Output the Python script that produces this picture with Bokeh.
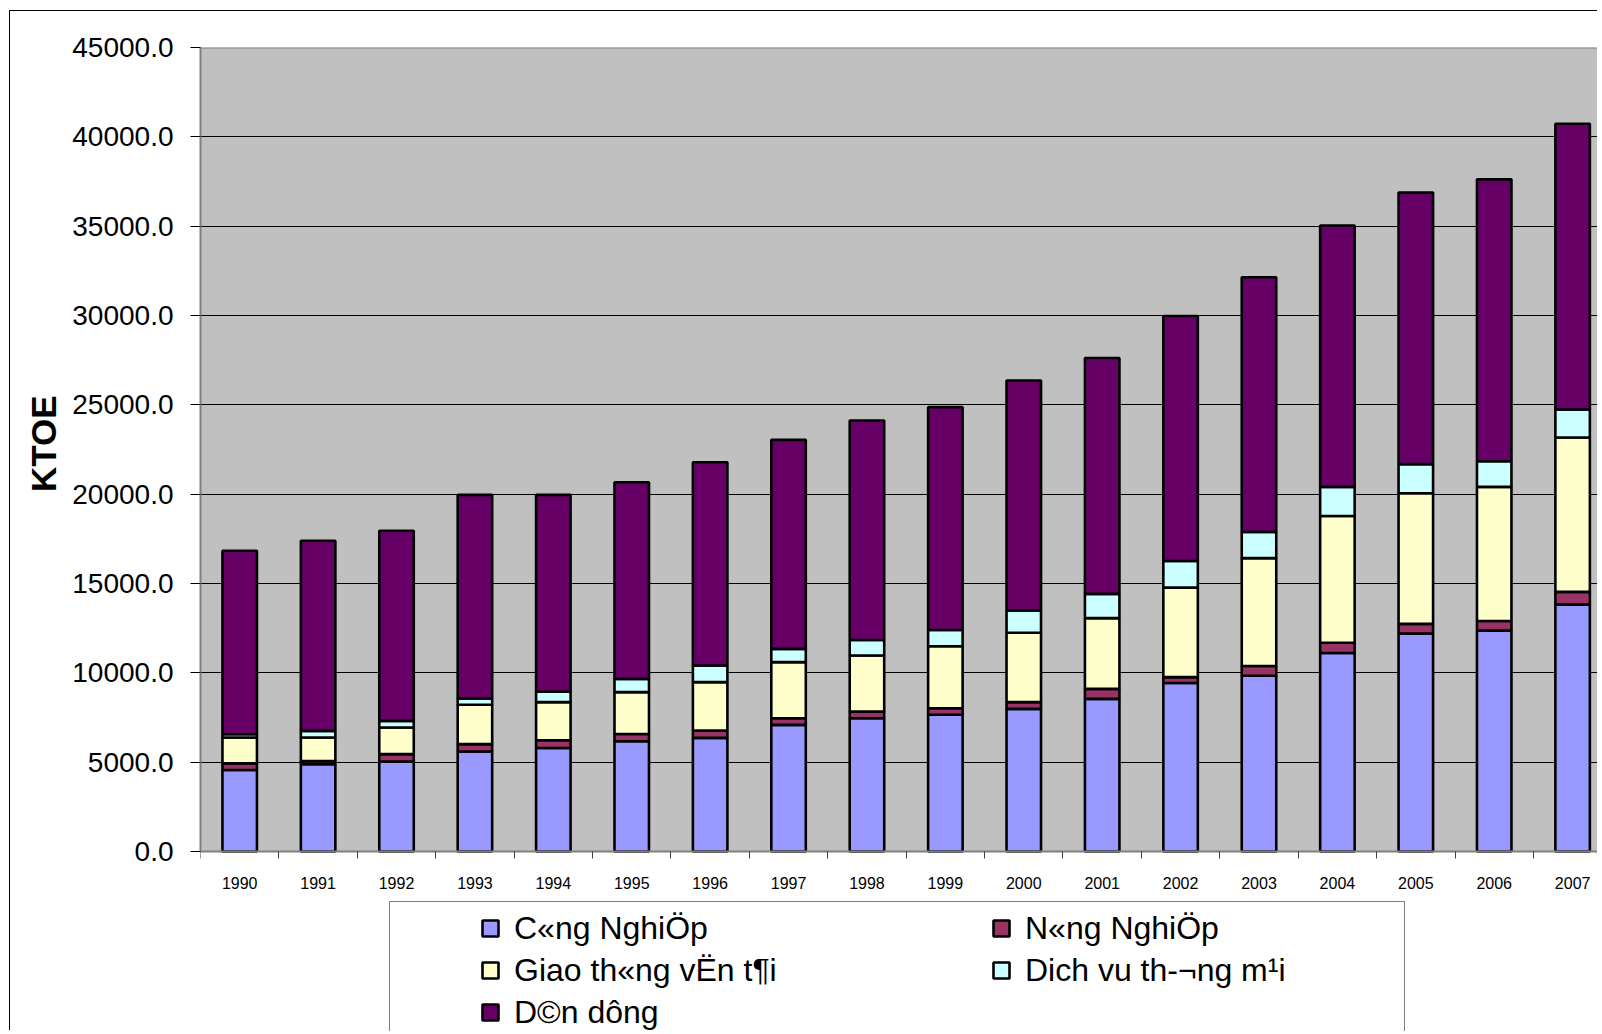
from bokeh.plotting import figure
from bokeh.models import (Range1d, FixedTicker, PrintfTickFormatter, Legend, LegendItem,
                          BoxAnnotation, Span, Title)
from bokeh.embed import file_html
from bokeh.resources import INLINE

years = ["1990", "1991", "1992", "1993", "1994", "1995", "1996", "1997", "1998",
         "1999", "2000", "2001", "2002", "2003", "2004", "2005", "2006", "2007"]
cong_nghiep = [4560, 4890, 5040, 5600, 5790, 6170, 6360, 7090, 7460,
               7650, 7980, 8540, 9430, 9840, 11110, 12200, 12360, 13820]
nong_nghiep = [370, 170, 410, 410, 440, 410, 410, 370, 370,
               370, 380, 560, 330, 540, 570, 540, 540, 710]
giao_thong = [1450, 1320, 1490, 2200, 2130, 2340, 2710, 3140, 3140,
              3470, 3880, 3960, 5010, 6040, 7100, 7310, 7510, 8640]
dich_vu = [180, 370, 370, 350, 590, 740, 930, 740, 870,
           910, 1250, 1360, 1490, 1470, 1630, 1630, 1430, 1570]
dan_dung = [10270, 10640, 10640, 11400, 11010, 11010, 11380, 11700, 12280,
            12470, 12870, 13200, 13710, 14250, 14630, 15200, 15780, 15990]

series_names = ["C«ng NghiÖp", "N«ng NghiÖp", "Giao th«ng vËn t¶i",
                "Dich vu th-¬ng m¹i", "D©n dông"]
series_colors = ["#9999FF", "#993366", "#FFFFCC", "#CCFFFF", "#660066"]
y_ticks = [0, 5000, 10000, 15000, 20000, 25000, 30000, 35000, 40000, 45000]
y_max = 45000
y_title = "KTOE"

FONT = "Liberation Sans"
n = len(years)
xs = [i + 0.5 for i in range(n)]

# geometry (canvas px)
H = 1020
TOP = 36            # frame top
AXIS_Y = 840        # pixel of value 0
px_per_unit = (AXIS_Y - TOP) / y_max
y_start = -(H - AXIS_Y) / px_per_unit

p = figure(width=1588, height=H, output_backend="svg", toolbar_location=None,
           x_range=Range1d(0, 17.83), y_range=Range1d(y_start, y_max),
           min_border_left=190, min_border_top=TOP, min_border_bottom=0,
           min_border_right=0)
p.styles = {"margin-left": "9px", "margin-top": "10px",
            "border-left": "1px solid black", "border-top": "1px solid black"}
p.background_fill_color = "white"
p.border_fill_color = "white"
p.outline_line_color = None

# grey plot area
p.add_layout(BoxAnnotation(bottom=0, top=y_max, fill_color="#C0C0C0", fill_alpha=1.0,
                           line_color=None, level="image"))
p.add_layout(Span(location=y_max, dimension="width", line_color="#808080",
                  line_width=2, level="underlay"))

source = dict(x=xs, cong=cong_nghiep, nong=nong_nghiep, giao=giao_thong,
              dich=dich_vu, dan=dan_dung)
keys = ["cong", "nong", "giao", "dich", "dan"]
rs = p.vbar_stack(keys, x="x", width=0.44, source=source, color=series_colors,
                  line_color="black", line_width=2.6)

# y axis
p.yaxis.ticker = FixedTicker(ticks=y_ticks)
p.yaxis.bounds = (0, y_max)
p.yaxis.formatter = PrintfTickFormatter(format="%.1f")
p.yaxis.major_label_text_font = FONT
p.yaxis.major_label_text_font_size = "28px"
p.yaxis.major_label_text_color = "black"
p.yaxis.major_tick_out = 10
p.yaxis.major_tick_in = 0
p.yaxis.major_tick_line_color = "black"
p.yaxis.minor_tick_line_color = None
p.yaxis.major_label_standoff = 17
p.yaxis.axis_line_color = "#808080"
p.yaxis.axis_line_width = 2

# y title placed beside the 0..45000 part of the axis
p.add_layout(Title(text=y_title, align="right", offset=348,
                   text_font=FONT, text_font_style="bold", text_font_size="35px",
                   text_color="black", standoff=14), "left")

# x axis at value 0
p.xaxis.fixed_location = 0
p.xaxis.ticker = FixedTicker(ticks=xs, minor_ticks=list(range(n + 1)))
p.xaxis.major_label_overrides = {x: y for x, y in zip(xs, years)}
p.xaxis.major_label_text_font = FONT
p.xaxis.major_label_text_font_size = "16px"
p.xaxis.major_label_text_color = "black"
p.xaxis.major_tick_out = 0
p.xaxis.major_tick_in = 0
p.xaxis.minor_tick_out = 7
p.xaxis.minor_tick_in = 0
p.xaxis.minor_tick_line_color = "#404040"
p.xaxis.major_label_standoff = 18
p.xaxis.axis_line_color = "#808080"
p.xaxis.axis_line_width = 2

p.xgrid.grid_line_color = None
p.ygrid.ticker = FixedTicker(ticks=y_ticks[1:-1])
p.ygrid.grid_line_color = "black"
p.ygrid.grid_line_width = 1

# legend frame (white box with black border, running off the bottom)
dummy = p.scatter(x=[], y=[], fill_alpha=0, line_alpha=0)
box = Legend(items=[LegendItem(label=" ", renderers=[dummy])],
             location=(189, -32), padding=0, margin=0, spacing=0,
             glyph_width=1, glyph_height=1, label_standoff=0,
             label_width=1013, label_height=160, label_text_font_size="1px",
             border_line_color="black", border_line_width=1,
             background_fill_color="white", background_fill_alpha=1.0)
p.add_layout(box, "center")

items = [LegendItem(label=nm, renderers=[r]) for nm, r in zip(series_names, rs)]
leg = Legend(items=items, location=(280, -2), orientation="horizontal", ncols=2,
             padding=0, margin=0, spacing=0,
             glyph_width=20, glyph_height=20, label_standoff=14,
             label_width=477, label_height=42,
             label_text_font=FONT, label_text_font_size="32px",
             label_text_color="black",
             border_line_color=None, background_fill_alpha=0)
p.add_layout(leg, "center")

open("out.html", "w").write(file_html(p, INLINE))
